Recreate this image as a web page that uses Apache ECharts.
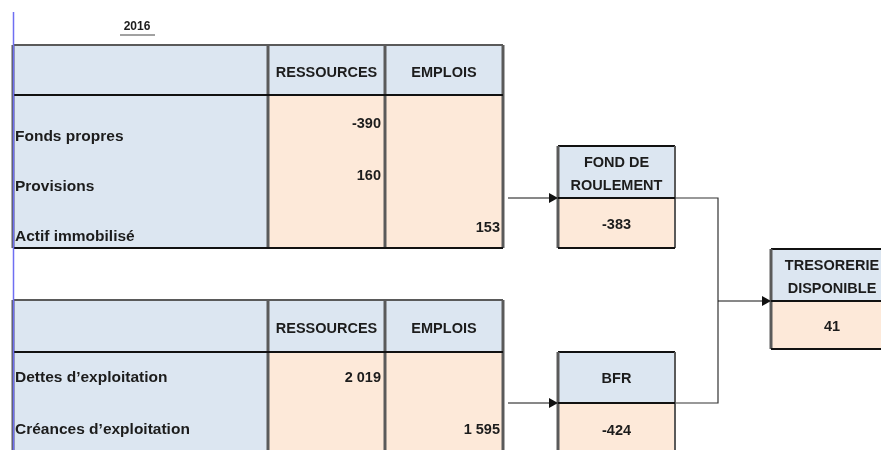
<!DOCTYPE html>
<html>
<head>
<meta charset="utf-8">
<script src="https://cdn.jsdelivr.net/npm/echarts@6/dist/echarts.min.js"></script>
<style>
  html, body { margin: 0; padding: 0; background: #fff; }
  #tableau { width: 881px; height: 450px; }
</style>
</head>
<body>
<div id="tableau"></div>
<script>
  // données
  var annee = '2016';
  var entetes = ['RESSOURCES', 'EMPLOIS'];
  var hautLibelles = ['Fonds propres', 'Provisions', 'Actif immobilisé'];
  var hautRessources = [-390, 160, null];
  var hautEmplois = [null, null, 153];
  var basLibelles = ['Dettes d\u2019exploitation', 'Cr\u00e9ances d\u2019exploitation'];
  var basRessources = [2019, null];
  var basEmplois = [null, 1595];
  var boiteTitres = [['FOND DE', 'ROULEMENT'], ['BFR'], ['TRESORERIE', 'DISPONIBLE']];
  var boiteValeurs = [-383, -424, 41];

  var BLEU = '#dce6f1', PECHE = '#fde9d9', GRIS = '#5a5a5a', NOIR = '#111', TXT = '#1c1c1c';
  var POLICE = 'bold 14.5px "Liberation Sans", Arial, sans-serif';
  var POLICE_LIB = 'bold 15.5px "Liberation Sans", Arial, sans-serif';

  function fmt(v) {
    if (v === null || v === undefined) return '';
    var s = String(Math.abs(v)).replace(/\B(?=(\d{3})+(?!\d))/g, ' ');
    return (v < 0 ? '-' : '') + s;
  }

  var els = [];
  function rect(x, y, w, h, fill) {
    els.push({ type: 'rect', shape: { x: x, y: y, width: w, height: h }, style: { fill: fill } });
  }
  function ligne(x1, y1, x2, y2, col, lw) {
    els.push({ type: 'line', shape: { x1: x1, y1: y1, x2: x2, y2: y2 }, style: { stroke: col, lineWidth: lw } });
  }
  function texte(x, y, t, align, font) {
    els.push({ type: 'text', x: x, y: y, style: { text: t, font: font || POLICE, fill: TXT, align: align, verticalAlign: 'middle' } });
  }
  function fleche(x, y) {
    els.push({ type: 'polygon', shape: { points: [[x - 9, y - 5], [x, y], [x - 9, y + 5]] }, style: { fill: NOIR } });
  }

  // tableau
  var X0 = 13, X1 = 268, X2 = 385, X3 = 503;
  function tableau(top, hdrBot, bot, libelles, libY, ress, ressY, empl) {
    rect(X0, top, X1 - X0, bot - top, BLEU);
    rect(X1, top, X3 - X1, hdrBot - top, BLEU);
    rect(X1, hdrBot, X3 - X1, bot - hdrBot, PECHE);
    ligne(X0, top, X3, top, GRIS, 2);
    [X0, X1, X2, X3].forEach(function (x) { ligne(x, top, x, bot, GRIS, 3); });
    ligne(X0, hdrBot, X3, hdrBot, NOIR, 2);
    if (bot < 450) ligne(X0, bot, X3, bot, NOIR, 2);
    texte((X1 + X2) / 2, (top + hdrBot) / 2 + 3, entetes[0], 'center');
    texte((X2 + X3) / 2, (top + hdrBot) / 2 + 3, entetes[1], 'center');
    libelles.forEach(function (l, i) {
      texte(X0 + 2, libY[i], l, 'left', POLICE_LIB);
      texte(X2 - 4, ressY[i], fmt(ress[i]), 'right');
      texte(X3 - 3, ressY[i], fmt(empl[i]), 'right');
    });
  }

  texte(137, 27, annee, 'center', 'bold 12px "Liberation Sans", Arial, sans-serif');
  ligne(120, 35, 155, 35, '#444', 1);

  tableau(45, 95, 248, hautLibelles, [137, 187, 237], hautRessources, [124, 176, 228], hautEmplois);
  tableau(300, 352, 460, basLibelles, [378, 430], basRessources, [378, 430], basEmplois);

  // boites
  function boite(x, y, w, hdr, bot, titres, val) {
    rect(x, y, w, hdr - y, BLEU);
    rect(x, hdr, w, bot - hdr, PECHE);
    ligne(x, y, x + w, y, NOIR, 2);
    ligne(x, y, x, bot, GRIS, 3);
    ligne(x + w, y, x + w, bot, GRIS, 2);
    ligne(x, hdr, x + w, hdr, NOIR, 2);
    if (bot < 450) ligne(x, bot, x + w, bot, NOIR, 2);
    var cx = x + w / 2;
    if (titres.length === 2) {
      texte(cx, y + 17, titres[0], 'center');
      texte(cx, y + 40, titres[1], 'center');
    } else {
      texte(cx, (y + hdr) / 2 + 1, titres[0], 'center');
    }
    texte(cx, (hdr + Math.min(bot, hdr + 52)) / 2 + 2, fmt(val), 'center');
  }
  boite(558, 146, 117, 198, 248, boiteTitres[0], boiteValeurs[0]);
  boite(558, 352, 117, 403, 460, boiteTitres[1], boiteValeurs[1]);
  boite(771, 249, 122, 301, 349, boiteTitres[2], boiteValeurs[2]);

  // connecteurs
  ligne(508, 198, 556, 198, NOIR, 1);
  fleche(558, 198);
  ligne(508, 403, 556, 403, NOIR, 1);
  fleche(558, 403);
  els.push({ type: 'polyline', shape: { points: [[675, 198], [718, 198], [718, 403], [676, 403]] }, style: { stroke: '#333', lineWidth: 1.2, fill: null } });
  ligne(718, 301, 769, 301, NOIR, 1);
  fleche(771, 301);

  // trait bleu vertical
  ligne(13.5, 12, 13.5, 450, '#6f6ff2', 1.5);

  var chart = echarts.init(document.getElementById('tableau'));
  chart.setOption({ animation: false, graphic: { elements: els } });
</script>
</body>
</html>
